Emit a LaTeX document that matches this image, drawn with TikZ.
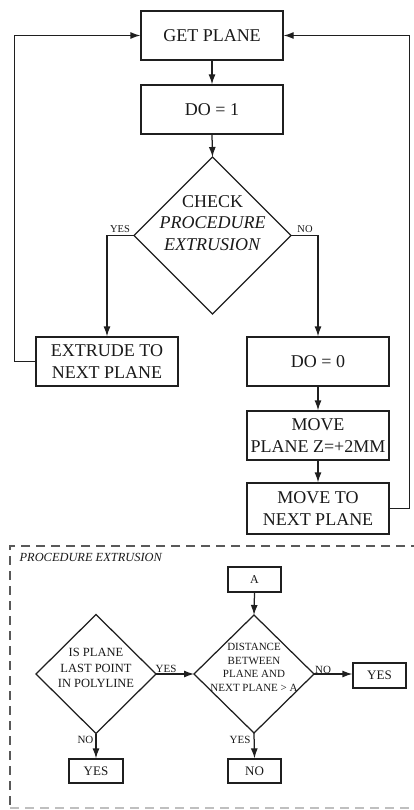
\documentclass[tikz,border=0pt]{standalone}
\usepackage{fontspec}
\setmainfont{Liberation Serif}
\usetikzlibrary{shapes.geometric,arrows.meta}
\begin{document}
\begin{tikzpicture}[x=1pt,y=-1pt,
  line width=1.25pt, draw=black!88, text=black!90,
  bigfont/.style={font=\fontsize{18}{21.5}\selectfont},
  box/.style={draw, rectangle, inner sep=0pt, bigfont, align=center},
  sbox/.style={draw, rectangle, inner sep=0pt, font=\fontsize{13}{15}\selectfont},
  dia/.style={draw, diamond, inner sep=0pt, outer sep=0pt},
  lab/.style={inner sep=0pt, font=\fontsize{10.5}{12}\selectfont},
  slab/.style={inner sep=0pt, font=\fontsize{11}{13}\selectfont},
  arr/.style={-{Latex[length=10pt,width=7pt]}},
  dashedframe/.style={draw=black!65, line width=1.4pt, dash pattern=on 9pt off 6pt}
]
\useasboundingbox (0,0) rectangle (414,810);

% main flow
\node[box, minimum width=142pt, minimum height=49pt] (get) at (212,35.5) {GET PLANE};
\node[box, minimum width=142pt, minimum height=49pt] (do1) at (212,109.5) {DO = 1};
\node[dia, minimum width=157pt, minimum height=157pt] (chk) at (212.5,235.5) {};
\node[inner sep=0pt, bigfont, align=center] (chktxt) at (212.5,223) {CHECK\\\textit{PROCEDURE}\\\textit{EXTRUSION}};
\node[box, minimum width=142pt, minimum height=49pt] (ext) at (107,361.5) {EXTRUDE TO\\NEXT PLANE};
\node[box, minimum width=142pt, minimum height=49pt] (do0) at (318,361.5) {DO = 0};
\node[box, minimum width=142pt, minimum height=49pt] (movez) at (318,435.5) {MOVE\\PLANE Z=+2MM};
\node[box, minimum width=142pt, minimum height=51pt] (movenext) at (318,508.5) {MOVE TO\\NEXT PLANE};

\draw[arr] (get.south) -- (do1.north);
\draw[arr] (do1.south) -- (chk.north);
\draw[arr] (chk.west) -| (ext.north);
\draw[arr] (chk.east) -| (do0.north);
\draw[arr] (do0.south) -- (movez.north);
\draw[arr] (movez.south) -- (movenext.north);
\draw[arr] (ext.west) -- ++(-21,0) |- (get.west);
\draw[arr] (movenext.east) -- ++(20,0) |- (get.east);

\node[lab] (lyes) at (120,229) {YES};
\node[lab] (lno) at (305,229) {NO};

% procedure frame
\draw[dashedframe] (420,546) -- (10,546) -- (10,808);
\draw[draw=black!25, line width=1.2pt, dash pattern=on 9pt off 6pt] (10,808) -- (420,808);
\node[inner sep=0pt, anchor=west, font=\fontsize{12.4}{14}\selectfont\itshape] (ptitle) at (19,557) {PROCEDURE EXTRUSION};

\node[sbox, minimum width=53pt, minimum height=25pt, font=\fontsize{12}{14}\selectfont] (a) at (254.5,579.5) {A};
\node[dia, minimum width=120pt, minimum height=118pt] (d2) at (254,674) {};
\node[inner sep=0pt, align=center, font=\fontsize{11}{13.7}\selectfont] (d2txt) at (254,667.5) {DISTANCE\\BETWEEN\\PLANE AND\\NEXT PLANE > A};
\node[dia, minimum width=120pt, minimum height=119pt] (d1) at (96,674) {};
\node[inner sep=0pt, align=center, font=\fontsize{12.5}{15.5}\selectfont] (d1txt) at (96,668) {IS PLANE\\LAST POINT\\IN POLYLINE};
\node[sbox, minimum width=53pt, minimum height=25pt] (yesr) at (379.5,675.5) {YES};
\node[sbox, minimum width=54pt, minimum height=24pt] (yesb) at (96,771) {YES};
\node[sbox, minimum width=53pt, minimum height=24pt] (nob) at (254.5,771) {NO};

\draw[arr] (a.south) -- (d2.north);
\draw[arr] (d1.east) -- (d2.west);
\draw[arr] (d2.east) -- (d2.east -| yesr.west);
\draw[arr] (d1.south) -- (yesb.north);
\draw[arr] (d2.south) -- (nob.north);

\node[slab] (l1) at (166,669) {YES};
\node[slab] (l2) at (323,670) {NO};
\node[slab] (l3) at (85.5,740) {NO};
\node[slab] (l4) at (240,740) {YES};
\end{tikzpicture}
\end{document}
